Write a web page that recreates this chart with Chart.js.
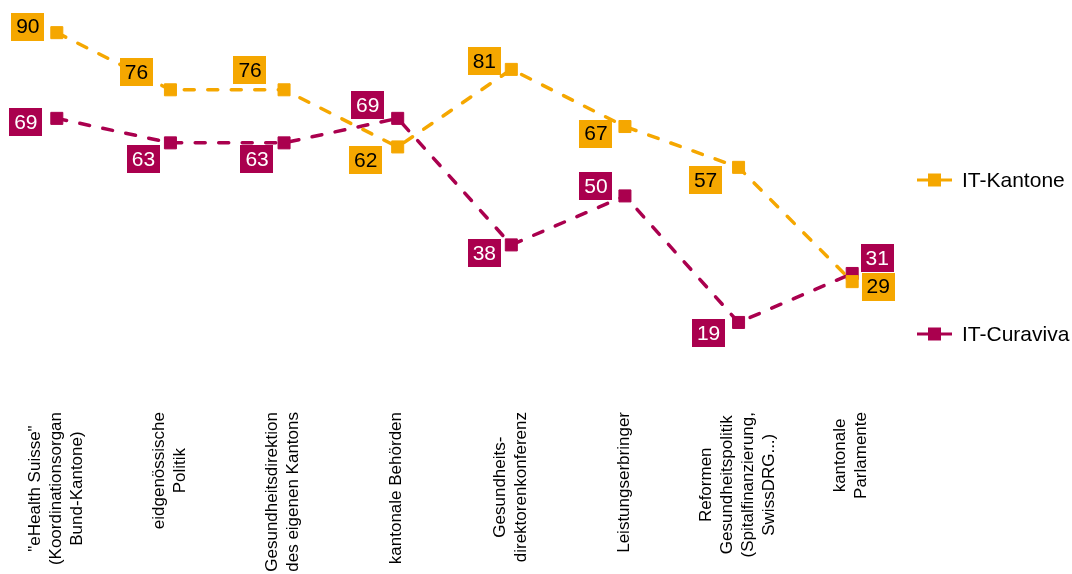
<!DOCTYPE html>
<html>
<head>
<meta charset="utf-8">
<script src="https://cdn.jsdelivr.net/npm/chart.js@4/dist/chart.umd.min.js"></script>
<style>
  body { margin: 0; background: #fff; }
  #wrap { width: 1072px; height: 574px; }
</style>
</head>
<body>
<div id="wrap"><canvas id="myChart" width="1072" height="574"></canvas></div>
<script>
'use strict';

// categories (x axis), multi-line like the original
let categories = [
  ['"eHealth Suisse"', '(Koordinationsorgan', 'Bund-Kantone)'],
  ['eidgenössische', 'Politik'],
  ['Gesundheitsdirektion', 'des eigenen Kantons'],
  ['kantonale Behörden'],
  ['Gesundheits-', 'direktorenkonferenz'],
  ['Leistungserbringer'],
  ['Reformen', 'Gesundheitspolitik', '(Spitalfinanzierung,', 'SwissDRG...)'],
  ['kantonale', 'Parlamente']
];

let kantoneValues = [90, 76, 76, 62, 81, 67, 57, 29];
let curavivaValues = [69, 63, 63, 69, 38, 50, 19, 31];

let seriesNames = ['IT-Kantone', 'IT-Curaviva'];

// label box offsets from the point (px), like excel's manual placement
let kantoneLabelDx = [-29, -34, -34, -32, -27, -29, -33, 26];
let kantoneLabelDy = [-6, -18, -20, 13, -8, 7, 13, 5];
let curavivaLabelDx = [-31, -27, -27, -30, -27, -29, -30, 25];
let curavivaLabelDy = [4, 16, 16, -13, 8, -10, 11, -15];

let orange = '#F5A700';
let crimson = '#AA004E';
let fontName = '"Liberation Sans", Arial, sans-serif';

let labelPlugin = {
  id: 'boxLabels',
  afterDatasetsDraw(chart) {
    let ctx = chart.ctx;
    let offsets = [[kantoneLabelDx, kantoneLabelDy], [curavivaLabelDx, curavivaLabelDy]];
    let textColors = ['#000', '#fff'];
    ctx.save();
    ctx.font = '21px ' + fontName;
    ctx.textAlign = 'center';
    ctx.textBaseline = 'middle';
    chart.data.datasets.forEach(function (ds, d) {
      let meta = chart.getDatasetMeta(d);
      meta.data.forEach(function (pt, i) {
        let txt = String(ds.data[i]);
        let w = ctx.measureText(txt).width + 10;
        let h = 28;
        let cx = pt.x + offsets[d][0][i];
        let cy = pt.y + offsets[d][1][i];
        ctx.fillStyle = ds.borderColor;
        ctx.fillRect(Math.round(cx - w / 2), Math.round(cy - h / 2), Math.round(w), h);
        ctx.fillStyle = textColors[d];
        ctx.fillText(txt, cx, cy + 1);
      });
    });
    ctx.restore();
  },
  afterDraw(chart) {
    let ctx = chart.ctx;
    let xScale = chart.scales.x;
    ctx.save();
    // rotated category labels, lines centred on each other
    ctx.font = '17px ' + fontName;
    ctx.fillStyle = '#000';
    ctx.textAlign = 'center';
    ctx.textBaseline = 'middle';
    categories.forEach(function (lines, i) {
      let x = xScale.getPixelForValue(i) - 1;
      let maxW = 0;
      lines.forEach(function (l) { maxW = Math.max(maxW, ctx.measureText(l).width); });
      ctx.save();
      ctx.translate(x, 412);
      ctx.rotate(-Math.PI / 2);
      lines.forEach(function (l, k) {
        ctx.fillText(l, -maxW / 2, (k - (lines.length - 1) / 2) * 21);
      });
      ctx.restore();
    });

    // legend on the right
    let legendY = [180, 334];
    ctx.font = '21px ' + fontName;
    ctx.textAlign = 'left';
    chart.data.datasets.forEach(function (ds, d) {
      let y = legendY[d];
      ctx.strokeStyle = ds.borderColor;
      ctx.lineWidth = 3;
      ctx.beginPath();
      ctx.moveTo(917, y);
      ctx.lineTo(952, y);
      ctx.stroke();
      ctx.fillStyle = ds.borderColor;
      ctx.fillRect(928, y - 6.5, 13, 13);
      ctx.fillStyle = '#000';
      ctx.fillText(ds.label, 962, y + 1);
    });
    ctx.restore();
  }
};

function makeSet(name, values, color) {
  return {
    label: name,
    data: values,
    borderColor: color,
    backgroundColor: color,
    borderWidth: 3.5,
    borderDash: [10, 13.5],
    borderCapStyle: 'round',
    tension: 0,
    pointStyle: 'rect',
    pointRadius: 8.5,
    pointBorderWidth: 1,
    pointBorderColor: color,
    pointBackgroundColor: color,
    clip: false
  };
}

let ctx = document.getElementById('myChart').getContext('2d');
let chart = new Chart(ctx, {
  type: 'line',
  data: {
    labels: categories.map(function (c) { return c.join(' '); }),
    datasets: [
      makeSet(seriesNames[0], kantoneValues, orange),
      makeSet(seriesNames[1], curavivaValues, crimson)
    ]
  },
  options: {
    responsive: false,
    devicePixelRatio: 1,
    animation: false,
    layout: { autoPadding: false, padding: { left: 0, right: 163, top: 0, bottom: 174 } },
    plugins: {
      legend: { display: false },
      tooltip: { enabled: false }
    },
    scales: {
      x: {
        display: false,
        offset: true
      },
      y: {
        display: false,
        min: 0,
        max: 98
      }
    }
  },
  plugins: [labelPlugin]
});
</script>
</body>
</html>
